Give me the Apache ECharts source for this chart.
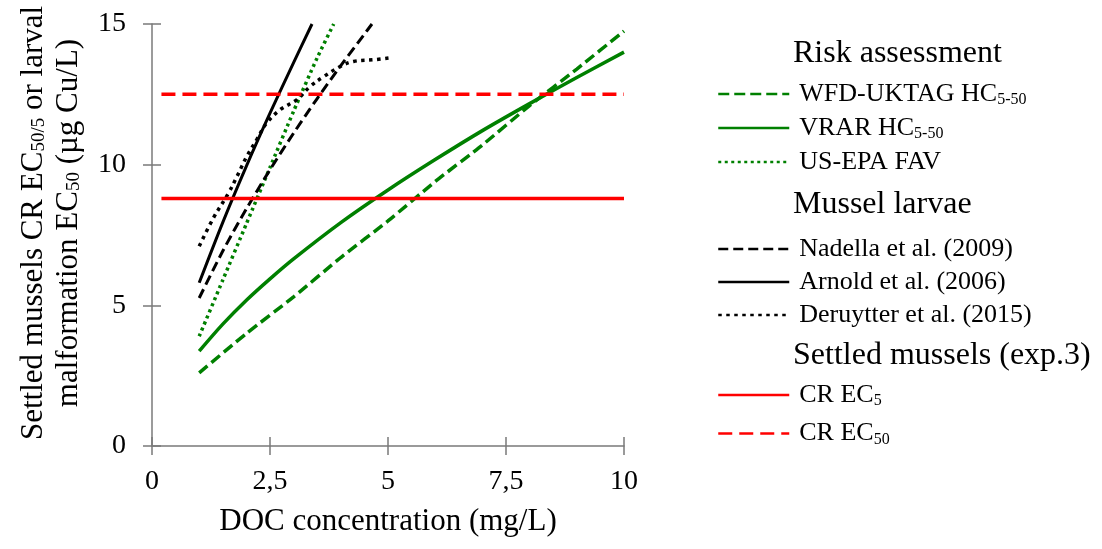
<!DOCTYPE html>
<html>
<head>
<meta charset="utf-8">
<script src="https://cdn.jsdelivr.net/npm/echarts@6/dist/echarts.min.js"></script>
<style>
html,body{margin:0;padding:0;background:#fff;}
#chart{width:1102px;height:549px;}
</style>
</head>
<body>
<div id="chart"></div>
<script>
// ---- data ----
const wfdX = [1, 2, 3, 4, 5, 6, 7, 8, 9, 10];
const wfdY = [2.6, 4.0, 5.3, 6.7, 8.0, 9.4, 10.7, 12.1, 13.4, 14.75];

const vrarX = [1, 1.5, 2, 2.5, 3, 4, 5, 6, 7, 8, 9, 10];
const vrarY = [3.37, 4.33, 5.18, 5.94, 6.65, 7.94, 9.1, 10.18, 11.21, 12.17, 13.1, 14.0];

const epaX = [1, 1.5, 2, 2.5, 3, 3.5, 3.85];
const epaY = [3.9, 5.9, 7.9, 9.9, 11.9, 13.8, 15.0];

const nadellaX = [1, 1.5, 2, 2.5, 3, 3.5, 4, 4.5, 4.66];
const nadellaY = [5.26, 6.93, 8.43, 9.82, 11.12, 12.35, 13.52, 14.64, 15.0];

const arnoldX = [1, 1.5, 2, 2.5, 3, 3.39];
const arnoldY = [5.8, 7.95, 9.95, 11.83, 13.63, 15.0];

const deruytterX = [1, 1.3, 1.62, 1.8, 2.01, 2.22, 2.43, 2.72, 3.07, 3.35, 3.64, 3.99, 4.27, 4.7, 5.02];
const deruytterY = [7.1, 8.1, 8.99, 9.58, 10.3, 10.89, 11.48, 11.96, 12.31, 12.78, 13.13, 13.49, 13.67, 13.73, 13.79];

const ec5X = [0.2, 10];
const ec5Y = [8.8, 8.8];
const ec50X = [0.2, 10];
const ec50Y = [12.5, 12.5];

const xTicks = ['0', '2,5', '5', '7,5', '10'];
const yTicks = ['0', '5', '10', '15'];

const names = {
  wfd: 'WFD-UKTAG HC5-50',
  vrar: 'VRAR HC5-50',
  epa: 'US-EPA FAV',
  nad: 'Nadella et al. (2009)',
  arn: 'Arnold et al. (2006)',
  der: 'Deruytter et al. (2015)',
  ec5: 'CR EC5',
  ec50: 'CR EC50'
};
const headers = ['Risk assessment', 'Mussel larvae', 'Settled mussels (exp.3)'];

// ---- build ----
const zip = (xs, ys) => xs.map((x, i) => [x, ys[i]]);
const GREEN = '#008000', RED = '#ff0000', BLACK = '#000000';
const FONT = '"Liberation Serif", "Times New Roman", serif';

function line(name, xs, ys, color, width, type, smooth) {
  return {
    name: name, type: 'line', data: zip(xs, ys), symbol: 'none', showSymbol: false,
    smooth: smooth, clip: true, xAxisIndex: 0, yAxisIndex: 0,
    lineStyle: { color: color, width: width, type: type },
    itemStyle: { color: color },
    emphasis: { disabled: true }, animation: false
  };
}

const series = [
  line(names.wfd, wfdX, wfdY, GREEN, 3.5, [11, 5], 0.2),
  line(names.vrar, vrarX, vrarY, GREEN, 3.5, 'solid', 0.3),
  line(names.epa, epaX, epaY, GREEN, 3.5, [3, 3.5], 0.2),
  line(names.nad, nadellaX, nadellaY, BLACK, 3, [10, 5], 0.3),
  line(names.arn, arnoldX, arnoldY, BLACK, 3, 'solid', 0.3),
  line(names.der, deruytterX, deruytterY, BLACK, 3.5, [3.5, 4.5], 0.4),
  line(names.ec5, ec5X, ec5Y, RED, 3.5, 'solid', false),
  line(names.ec50, ec50X, ec50Y, RED, 3.5, [14, 7], false)
];

const legRich = {
  t: { fontFamily: FONT, fontSize: 26, color: '#000', lineHeight: 30 },
  s: { fontFamily: FONT, fontSize: 16, color: '#000', padding: [12, 0, 0, 0] }
};
function legFmt(n) {
  if (n === names.wfd) return '{t|WFD-UKTAG HC}{s|5-50}';
  if (n === names.vrar) return '{t|VRAR HC}{s|5-50}';
  if (n === names.ec5) return '{t|CR EC}{s|5}';
  if (n === names.ec50) return '{t|CR EC}{s|50}';
  return '{t|' + n + '}';
}
function legend(data, top, gap) {
  return {
    orient: 'vertical', left: 712, top: top, itemWidth: 71, itemHeight: 14,
    itemGap: gap, data: data, formatter: legFmt, selectedMode: false,
    textStyle: { padding: [0, 0, 0, 5], rich: legRich },
    itemStyle: { opacity: 0, borderWidth: 0 },
    lineStyle: { width: 2.5 }
  };
}

const axisColor = '#7a7a7a';
const option = {
  backgroundColor: '#ffffff',
  animation: false,
  grid: { left: 152, right: 478, top: 24, bottom: 103, containLabel: false },
  xAxis: [{
    type: 'value', min: 0, max: 10, interval: 2.5, position: 'bottom',
    name: 'DOC concentration (mg/L)', nameLocation: 'middle', nameGap: 60,
    nameTextStyle: { fontFamily: FONT, fontSize: 31, color: '#000' },
    axisLine: { lineStyle: { color: axisColor, width: 1.5 } },
    axisTick: { show: true, length: 9, lineStyle: { color: axisColor, width: 1.5 } },
    axisLabel: { fontFamily: FONT, fontSize: 28, color: '#000', margin: 22,
      formatter: (v) => xTicks[Math.round(v / 2.5)] },
    splitLine: { show: false }
  }, {
    type: 'value', min: 0, max: 10, interval: 2.5, position: 'bottom',
    axisLine: { show: false },
    axisTick: { show: true, inside: true, length: 9, lineStyle: { color: axisColor, width: 1.5 } },
    axisLabel: { show: false }, splitLine: { show: false }
  }],
  yAxis: [{
    type: 'value', min: 0, max: 15, interval: 5, position: 'left',
    name: '{t|Settled mussels CR EC}{s|50/5}{t| or larval}\n{t|malformation EC}{s|50}{t| (µg Cu/L)}',
    nameLocation: 'middle', nameGap: 66, nameRotate: 90,
    nameTextStyle: {
      padding: [0, 0, 0, 24],
      rich: {
        t: { fontFamily: FONT, fontSize: 31, color: '#000', lineHeight: 35 },
        s: { fontFamily: FONT, fontSize: 19, color: '#000', padding: [12, 0, 0, 0] }
      }
    },
    axisLine: { lineStyle: { color: axisColor, width: 1.5 } },
    axisTick: { show: true, length: 9, lineStyle: { color: axisColor, width: 1.5 } },
    axisLabel: { fontFamily: FONT, fontSize: 28, color: '#000', margin: 26,
      formatter: (v) => yTicks[Math.round(v / 5)] },
    splitLine: { show: false }
  }, {
    type: 'value', min: 0, max: 15, interval: 5, position: 'left',
    axisLine: { show: false },
    axisTick: { show: true, inside: true, length: 9, lineStyle: { color: axisColor, width: 1.5 } },
    axisLabel: { show: false }, splitLine: { show: false }
  }],
  legend: [
    legend([names.wfd, names.vrar, names.epa], 76, 7),
    legend([names.nad, names.arn, names.der], 231, 7),
    legend([names.ec5, names.ec50], 377, 11.5)
  ],
  graphic: [
    { type: 'text', left: 793, top: 38, style: { text: headers[0], font: '32px ' + FONT, fill: '#000' } },
    { type: 'text', left: 793, top: 189, style: { text: headers[1], font: '32px ' + FONT, fill: '#000' } },
    { type: 'text', left: 793, top: 340, style: { text: headers[2], font: '32px ' + FONT, fill: '#000' } }
  ],
  series: series
};

const chart = echarts.init(document.getElementById('chart'), null, { renderer: 'canvas' });
chart.setOption(option);
</script>
</body>
</html>
